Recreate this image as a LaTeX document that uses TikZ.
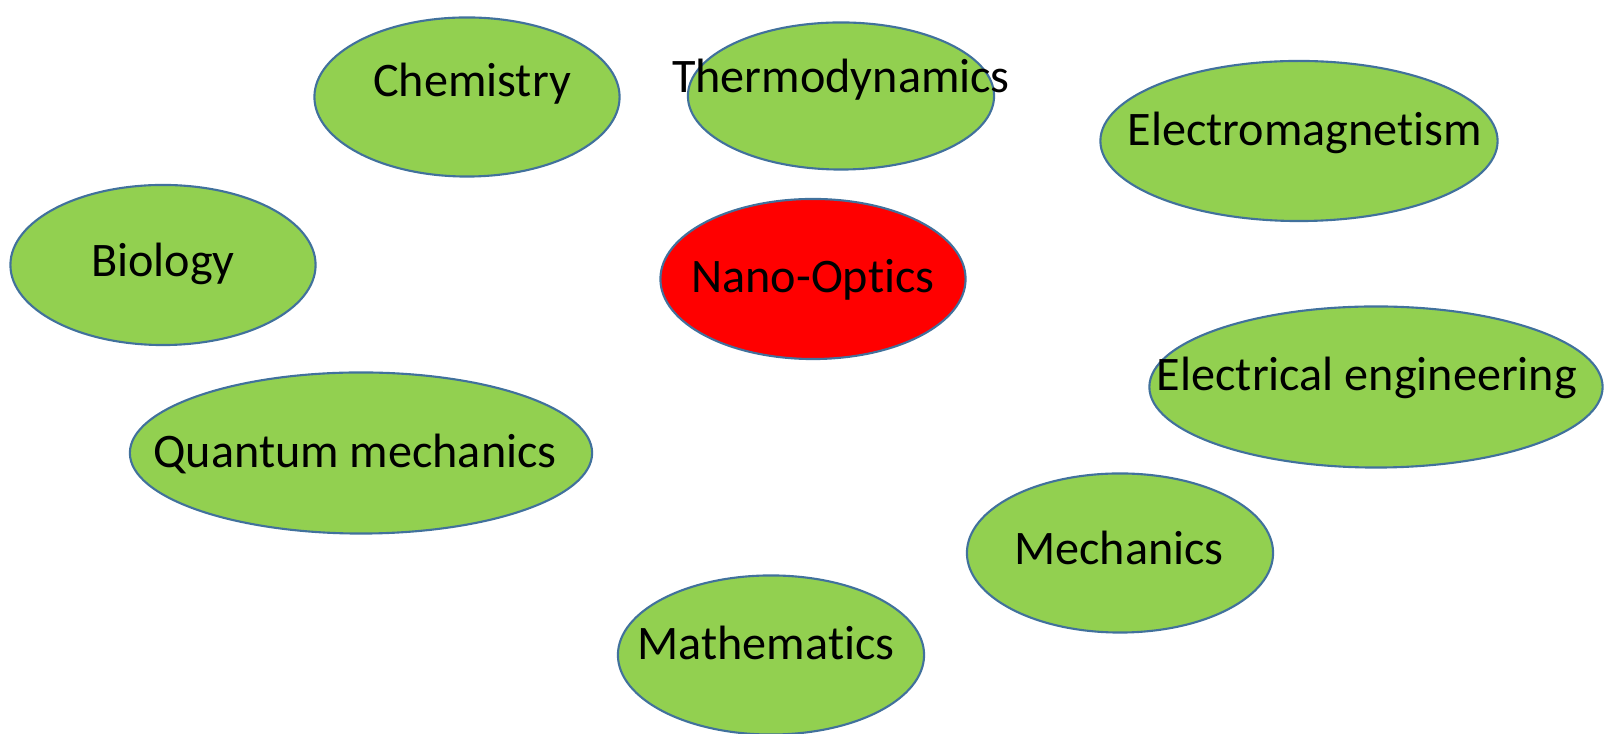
\documentclass[tikz,border=0pt]{standalone}
\usepackage{fontspec}
\setmainfont[Ligatures=NoCommon]{Carlito}
\usetikzlibrary{shapes.geometric}
\definecolor{fieldgreen}{HTML}{92D050}
\definecolor{rimblue}{HTML}{41719C}
\definecolor{corered}{HTML}{FF0000}
\begin{document}
\begin{tikzpicture}[x=0.01cm, y=-0.01cm,
  fnode/.style={ellipse, draw=rimblue, line width=0.6pt, fill=fieldgreen, inner sep=0pt, minimum height=1.59cm},
  lbl/.style={font=\fontsize{13.7}{16}\selectfont, inner sep=0pt, text=black}]
  \useasboundingbox (0,0) rectangle (1605,734);
  % Fields
  \node[fnode, minimum width=3.05cm] (chem) at (467,97) {};
  \node[fnode, minimum width=3.06cm, minimum height=1.47cm] (thermo) at (841,96) {};
  \node[fnode, minimum width=3.97cm, minimum height=1.60cm] (em) at (1299,141) {};
  \node[fnode, minimum width=3.05cm, minimum height=1.60cm] (bio) at (163,265) {};
  \node[fnode, fill=corered, minimum width=3.05cm, minimum height=1.60cm] (nano) at (813,279) {};
  \node[fnode, minimum width=4.53cm, minimum height=1.61cm] (ee) at (1376,387) {};
  \node[fnode, minimum width=4.62cm, minimum height=1.61cm] (qm) at (361,453) {};
  \node[fnode, minimum width=3.06cm] (mech) at (1120,553) {};
  \node[fnode, minimum width=3.06cm] (math) at (771,655) {};
  % Labels
  \node[lbl] (chemL) at (472,84) {Chemistry};
  \node[lbl] (thermoL) at (841,80) {Thermodynamics};
  \node[lbl] (emL) at (1305,133) {Electromagnetism};
  \node[lbl] (bioL) at (163,264) {Biology};
  \node[lbl] (nanoL) at (813,280) {Nano-Optics};
  \node[lbl] (eeL) at (1367,378) {Electrical engineering};
  \node[lbl] (qmL) at (355,454) {Quantum mechanics};
  \node[lbl] (mechL) at (1119,548) {Mechanics};
  \node[lbl] (mathL) at (766,643) {Mathematics};
\end{tikzpicture}
\end{document}
